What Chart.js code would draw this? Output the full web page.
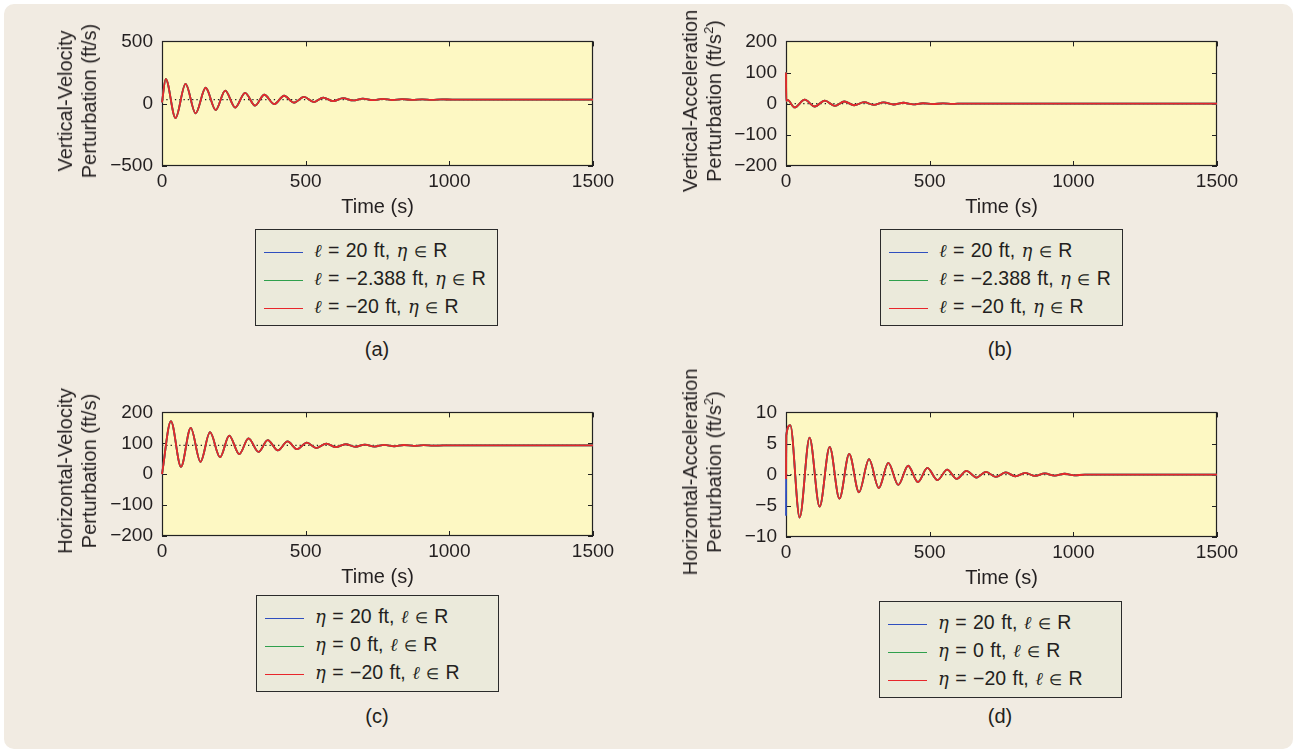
<!DOCTYPE html>
<html>
<head>
<meta charset="utf-8">
<title>Perturbation responses</title>
<script src="https://cdn.jsdelivr.net/npm/chart.js@4.4.1/dist/chart.umd.min.js"></script>
<style>
  html, body { margin: 0; padding: 0; background: #fff; }
  body { width: 1297px; height: 753px; position: relative; overflow: hidden; }
  #card { position: absolute; left: 4px; top: 4px; width: 1289px; height: 745px; background: #f1ebe2; border-radius: 10px; }
  .panel { position: absolute; }
  .ytitle { position: absolute; font: 20px "Liberation Sans", Arial, sans-serif; color: #231f20;
            white-space: nowrap; text-align: center; line-height: 24px;
            transform: translate(-50%, -50%) rotate(-90deg); }
  .ytitle sup { font-size: 13px; line-height: 0; }
  .legend { position: absolute; width: 243px; height: 97px; box-sizing: border-box;
            background: #ebeadb; border: 1px solid #2b2b2b; }
  .row { position: absolute; left: 0; right: 0; height: 26px; }
  .swatch { position: absolute; left: 8px; width: 39px; top: 12.5px; height: 1.5px; }
  .label { position: absolute; left: 58px; top: 0; line-height: 26px; white-space: nowrap;
           font: 19.5px "Liberation Sans", Arial, sans-serif; color: #231f20; word-spacing: 1px; }
  .label i { font-family: "DejaVu Serif", serif; font-size: 18px; }
  .label .in { font-size: 15px; }
  .caption { position: absolute; font: 20px "Liberation Sans", Arial, sans-serif; color: #231f20;
             transform: translate(-50%, -50%); }
</style>
</head>
<body>
<div id="card"></div>
<script>
// Time stamps (s) at the turning points of each response, and the values there.
const timesA = [0, 13, 47, 82, 117, 152, 187, 220, 255, 289, 324, 356, 391, 425, 459, 494, 529, 561, 596, 630, 665, 699, 733, 768, 802, 836, 870, 905, 939, 975, 1010, 1500];
const valuesA = [10, 200, -115, 159, -77, 128, -51, 105, -31, 87, -15, 72, -3, 64, 8, 54, 13, 49, 21, 44, 26, 41, 28, 39, 29.5, 37, 30.5, 35.5, 31.5, 34.5, 33, 33];

const timesB = [0, 1, 5, 30, 65, 100, 135, 170, 203, 237, 272, 305, 340, 374, 409, 443, 477, 511, 546, 580, 615, 650, 1500];
const valuesB = [100, 8, 12, -12, 13, -9, 10, -7, 7, -5, 5, -4, 4, -2.5, 3, -2, 1.5, -1.2, 1, -0.6, 0.5, 0, 0];

const timesC = [0, 31, 66, 100, 134, 167, 202, 234, 269, 301, 336, 368, 403, 437, 470, 504, 537, 572, 605, 639, 673, 706, 740, 774, 808, 842, 876, 910, 944, 980, 1500];
const valuesC = [0, 172, 24, 150, 40, 136, 55, 125, 65, 116, 72, 110, 77, 106, 81, 102, 84.5, 99, 87.5, 97, 88.5, 96, 89.5, 95, 90.5, 94.5, 91.5, 93.8, 92.3, 93, 93];

const timesD = [0, 1, 15, 47.5, 82, 117, 152, 186, 220, 254, 289, 323, 356, 391, 425, 459, 492, 527, 561, 594, 628, 663, 696, 730, 765, 798, 833, 867, 901, 935, 970, 1004, 1040, 1500];
const valuesD = [-0.7, 6.3, 7.95, -6.87, 5.95, -5.13, 4.46, -3.85, 3.33, -2.82, 2.51, -2.15, 1.9, -1.64, 1.44, -1.18, 1.08, -0.87, 0.82, -0.67, 0.62, -0.46, 0.46, -0.36, 0.36, -0.26, 0.28, -0.2, 0.2, -0.15, 0.15, -0.1, 0, 0];

// Starting values of the blue, green and red traces (they coincide afterwards)
const startA = [10, 10, 10];
const startB = [100, 100, 100];
const startC = [0, 0, 0];
const startD = [-6.6, 0, -0.7];

// Steady-state reference levels (dotted lines)
const steadyLevels = [33, 0, 93, 0];

// Axis limits and tick steps
const yMins = [-500, -200, -200, -10];
const yMaxs = [500, 200, 200, 10];
const ySteps = [500, 100, 100, 5];
const xTicks = [0, 500, 1000, 1500];

const yTitles = [
  ['Vertical-Velocity', 'Perturbation (ft/s)'],
  ['Vertical-Acceleration', 'Perturbation (ft/s<sup>2</sup>)'],
  ['Horizontal-Velocity', 'Perturbation (ft/s)'],
  ['Horizontal-Acceleration', 'Perturbation (ft/s<sup>2</sup>)']
];
const legendLat = ['ℓ = 20 ft, η ∈ R', 'ℓ = −2.388 ft, η ∈ R', 'ℓ = −20 ft, η ∈ R'];
const legendLon = ['η = 20 ft, ℓ ∈ R', 'η = 0 ft, ℓ ∈ R', 'η = −20 ft, ℓ ∈ R'];
const captions = ['(a)', '(b)', '(c)', '(d)'];

const COLORS = ['#2f4fbf', '#2fa04c', '#e8262b'];
const PLOT_FILL = '#fdf8c3';
const INK = '#231f20';
const FONT = '"Liberation Sans", Arial, sans-serif';
const TICK = 5;

// Page layout: plot rectangle, y-title centre, legend box, caption centre
const layout = [
  { left: 162, top: 36, w: 431, h: 130, yt: [77, 101], lg: [255, 229], cap: [377, 349] },
  { left: 786, top: 36, w: 431, h: 130, yt: [702, 101], lg: [880, 229], cap: [1000, 349] },
  { left: 162, top: 407, w: 431, h: 129, yt: [77, 471], lg: [256, 595], cap: [377, 716] },
  { left: 786, top: 407, w: 431, h: 130, yt: [702, 472], lg: [879, 601], cap: [1000, 716] }
];
const YW = 70, XH = 60, PAD_T = 15, PAD_R = 30;

// Plot background, box and inward ticks; the traces are drawn over them
const framePlugin = {
  id: 'frame',
  beforeDatasetsDraw(chart) {
    const { ctx, chartArea: a, scales } = chart;
    ctx.save();
    ctx.fillStyle = PLOT_FILL;
    ctx.fillRect(a.left, a.top, a.width, a.height);
    ctx.strokeStyle = '#222';
    ctx.lineWidth = 1;
    ctx.beginPath();
    scales.x.ticks.forEach(t => {
      const px = Math.round(scales.x.getPixelForValue(t.value)) + 0.5;
      ctx.moveTo(px, a.bottom); ctx.lineTo(px, a.bottom - TICK);
      ctx.moveTo(px, a.top); ctx.lineTo(px, a.top + TICK);
    });
    scales.y.ticks.forEach(t => {
      const py = Math.round(scales.y.getPixelForValue(t.value)) + 0.5;
      ctx.moveTo(a.left, py); ctx.lineTo(a.left + TICK, py);
      ctx.moveTo(a.right, py); ctx.lineTo(a.right - TICK, py);
    });
    ctx.stroke();
    ctx.lineWidth = 1.2;
    ctx.strokeRect(Math.round(a.left) + 0.5, Math.round(a.top) + 0.5, Math.round(a.width) - 1, Math.round(a.height) - 1);
    ctx.restore();
  }
};

const fmt = v => (v < 0 ? '\u2212' + Math.abs(v) : String(v));

function mathLabel(text) {
  return text.replace(/[ℓη]/g, m => '<i>' + m + '</i>').replace('∈', '<span class="in">∈</span>');
}

function series(times, values, start) {
  return times.map((t, i) => ({ x: t, y: i === 0 ? start : values[i] }));
}

function buildPanel(i, times, values, starts, legendTexts) {
  const L = layout[i];
  const page = document.body;

  const box = document.createElement('div');
  box.className = 'panel';
  box.style.left = (L.left - YW) + 'px';
  box.style.top = (L.top - PAD_T) + 'px';
  box.style.width = (YW + L.w + PAD_R) + 'px';
  box.style.height = (PAD_T + L.h + XH) + 'px';
  const canvas = document.createElement('canvas');
  box.appendChild(canvas);
  page.appendChild(box);

  const yt = document.createElement('div');
  yt.className = 'ytitle';
  yt.style.left = L.yt[0] + 'px';
  yt.style.top = L.yt[1] + 'px';
  yt.innerHTML = yTitles[i].join('<br>');
  page.appendChild(yt);

  const lg = document.createElement('div');
  lg.className = 'legend';
  lg.style.left = L.lg[0] + 'px';
  lg.style.top = L.lg[1] + 'px';
  legendTexts.forEach((txt, k) => {
    const row = document.createElement('div');
    row.className = 'row';
    row.style.top = (9 + k * 28) + 'px';
    row.innerHTML = '<div class="swatch" style="background:' + COLORS[k] + '"></div>' +
                    '<div class="label">' + mathLabel(txt) + '</div>';
    lg.appendChild(row);
  });
  page.appendChild(lg);

  const cap = document.createElement('div');
  cap.className = 'caption';
  cap.style.left = L.cap[0] + 'px';
  cap.style.top = L.cap[1] + 'px';
  cap.textContent = captions[i];
  page.appendChild(cap);

  const trace = (k, order) => ({
    data: series(times, values, starts[k]),
    borderColor: COLORS[k],
    borderWidth: 1.8,
    pointRadius: 0,
    cubicInterpolationMode: 'monotone',
    clip: false,
    order: order
  });

  new Chart(canvas, {
    type: 'line',
    data: {
      datasets: [
        trace(2, 0),
        trace(1, 1),
        trace(0, 2),
        {
          data: [{ x: 0, y: steadyLevels[i] }, { x: 1500, y: steadyLevels[i] }],
          borderColor: '#222',
          borderWidth: 1.3,
          borderDash: [1.3, 3],
          pointRadius: 0,
          order: 3
        }
      ]
    },
    options: {
      responsive: true,
      maintainAspectRatio: false,
      animation: false,
      layout: { padding: { top: PAD_T, right: PAD_R, left: 0, bottom: 0 } },
      plugins: { legend: { display: false }, tooltip: { enabled: false } },
      scales: {
        x: {
          type: 'linear',
          min: xTicks[0],
          max: xTicks[xTicks.length - 1],
          afterBuildTicks: s => { s.ticks = xTicks.map(v => ({ value: v })); },
          afterFit: s => { s.height = XH; },
          grid: { display: false, drawTicks: false },
          border: { display: false },
          ticks: { color: INK, font: { family: FONT, size: 19 }, padding: 4, maxRotation: 0, callback: fmt },
          title: { display: true, text: 'Time (s)', color: INK, font: { family: FONT, size: 20 }, padding: { top: 0, bottom: 7 } }
        },
        y: {
          min: yMins[i],
          max: yMaxs[i],
          ticks: { stepSize: ySteps[i], color: INK, font: { family: FONT, size: 19 }, padding: 9, callback: fmt },
          afterFit: s => { s.width = YW; },
          grid: { display: false, drawTicks: false },
          border: { display: false }
        }
      }
    },
    plugins: [framePlugin]
  });
}

buildPanel(0, timesA, valuesA, startA, legendLat);
buildPanel(1, timesB, valuesB, startB, legendLat);
buildPanel(2, timesC, valuesC, startC, legendLon);
buildPanel(3, timesD, valuesD, startD, legendLon);
</script>
</body>
</html>
